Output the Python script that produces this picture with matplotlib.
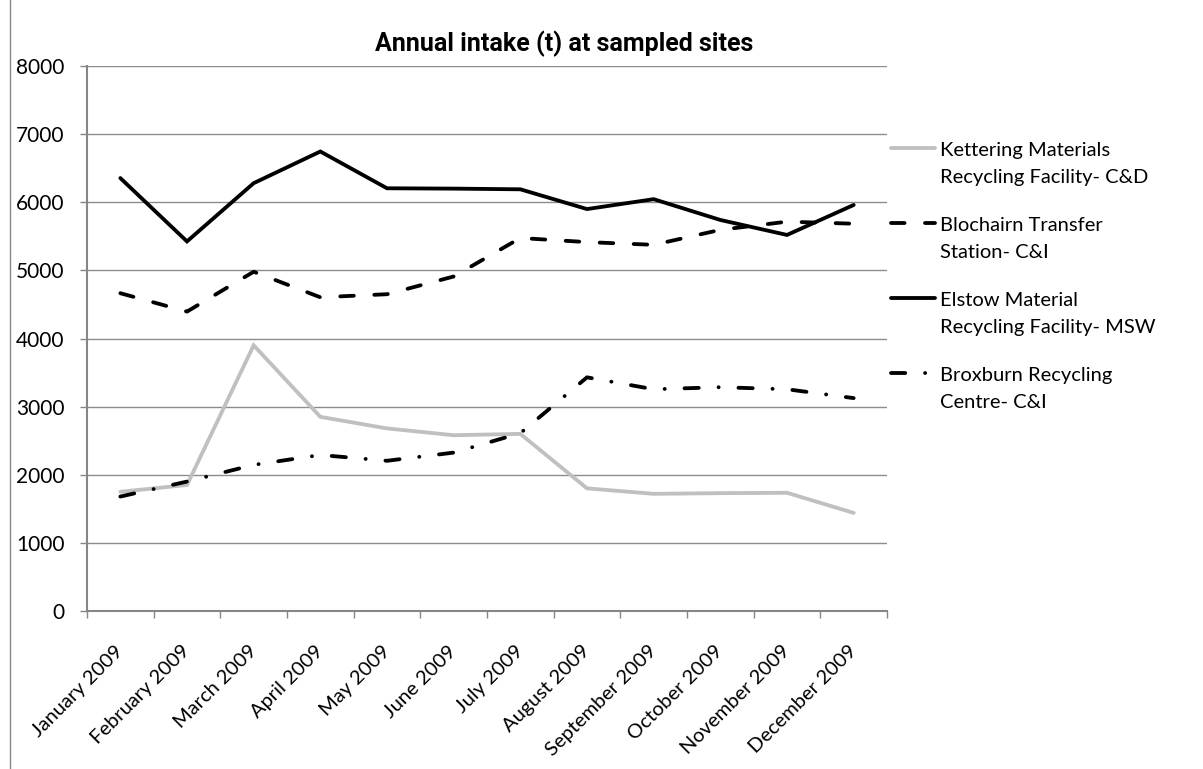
import numpy as np
import matplotlib
matplotlib.use("Agg")
import matplotlib.pyplot as plt
from matplotlib.lines import Line2D

plt.rcParams["font.family"] = ["Lato", "DejaVu Sans"]
plt.rcParams["lines.scale_dashes"] = False

months = ["January 2009", "February 2009", "March 2009", "April 2009", "May 2009",
          "June 2009", "July 2009", "August 2009", "September 2009", "October 2009",
          "November 2009", "December 2009"]

kettering = [1750, 1850, 3900, 2850, 2680, 2580, 2600, 1800, 1720, 1730, 1735, 1440]
blochairn = [4665, 4395, 4980, 4605, 4650, 4910, 5475, 5415, 5375, 5595, 5715, 5685]
elstow = [6355, 5425, 6280, 6745, 6205, 6200, 6190, 5900, 6045, 5740, 5520, 5960]
broxburn = [1680, 1900, 2145, 2290, 2205, 2325, 2610, 3430, 3255, 3285, 3255, 3125]

labels = ["Kettering Materials\nRecycling Facility- C&D",
          "Blochairn Transfer\nStation- C&I",
          "Elstow Material\nRecycling Facility- MSW",
          "Broxburn Recycling\nCentre- C&I"]

W, H = 1203, 769
fig = plt.figure(figsize=(W / 100, H / 100), dpi=100)
ax = fig.add_axes([87 / W, 1 - 611 / H, 800 / W, 545 / H])

lw = 2.75
styles = [
    dict(color="#c0c0c0", linestyle="-"),
    dict(color="black", linestyle=(0, (9.75, 14.75))),
    dict(color="black", linestyle="-"),
    dict(color="black", linestyle=(0, (10.25, 14.25, 0.1, 14.25))),
]
series = [kettering, blochairn, elstow, broxburn]

x = np.arange(len(months))
for vals, st in zip(series, styles):
    ax.plot(x, vals, lw=lw, solid_capstyle="round", dash_capstyle="round",
            solid_joinstyle="miter", **st)

ax.set_xlim(-0.5, len(months) - 0.5)
ax.set_ylim(0, 8000)
ax.set_yticks(range(0, 8001, 1000))
ax.yaxis.grid(True, color="#8c8c8c", lw=1)
ax.set_axisbelow(True)

gray = "#868686"
for s in ["top", "right"]:
    ax.spines[s].set_visible(False)
for s in ["left", "bottom"]:
    ax.spines[s].set_color(gray)
    ax.spines[s].set_linewidth(1.5)

ax.tick_params(axis="y", length=5, width=1, color=gray, labelsize=15, pad=11)
ax.set_xticks(x)
ax.set_xticklabels(months, rotation=45, ha="right", va="center",
                   rotation_mode="anchor", fontsize=14.5)
ax.tick_params(axis="x", which="major", length=0, pad=27)
ax.set_xticks(np.arange(-0.5, len(months)), minor=True)
ax.tick_params(axis="x", which="minor", length=5, width=1, color=gray)

# legend drawn by hand so the sample sits on the first text line
for i, (lab, st) in enumerate(zip(labels, styles)):
    y_line = 1 - (148 + 75 * i) / H
    fig.add_artist(Line2D([891 / W, 935 / W], [y_line, y_line], transform=fig.transFigure,
                          lw=lw, solid_capstyle="round", dash_capstyle="round",
                          **st))
    fig.text(940 / W, 1 - (164 + 75 * i) / H, lab, fontsize=14.5, va="center",
             ha="left", linespacing=1.75)

fig.text(564 / W, 1 - 51 / H, "Annual intake (t) at sampled sites", fontsize=18,
         fontweight="bold", family=["Roboto", "DejaVu Sans"], ha="center", va="baseline")

fig.add_artist(Line2D([9.5 / W, 9.5 / W], [0, 1], transform=fig.transFigure,
                      color=gray, lw=1))

fig.savefig("out.png", dpi=100)
